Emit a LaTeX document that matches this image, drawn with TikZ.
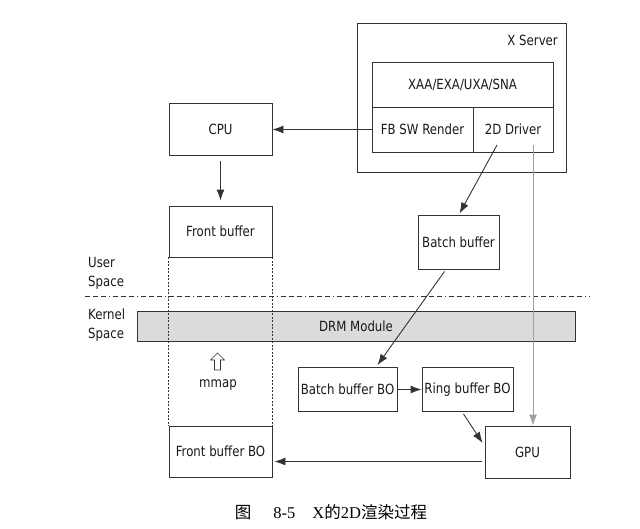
\documentclass[tikz,border=0pt]{standalone}
\usepackage{fontspec}
\setmainfont{DejaVu Sans}[FakeStretch=0.84]
\newfontfamily\cjk{Noto Sans CJK SC}
\newfontfamily\capserif{Liberation Serif}
\usetikzlibrary{arrows.meta,calc}
\definecolor{linec}{gray}{0.2}
\definecolor{drmfill}{gray}{0.86}
\begin{document}
\begin{tikzpicture}[x=1pt,y=-1pt,
  font=\fontsize{14}{15}\selectfont,
  box/.style={draw=linec, line width=0.9pt, inner sep=0pt, text=black!90},
  arr/.style={-{Latex[length=11pt,width=8pt]}, draw=linec, line width=0.9pt},
  dotline/.style={draw=linec, line width=0.55pt, dash pattern=on 2pt off 1.5pt},
  lbl/.style={inner sep=0pt, align=left, text=black!90}
]
\useasboundingbox (0,0) rectangle (640,528);

% X Server
\node[box, minimum width=209pt, minimum height=149pt] (xs) at (461.5,97.5) {};
\node[lbl, anchor=east] (xslbl) at (558,40) {X Server};
\node[box, minimum width=181pt, minimum height=45pt] (xaa) at (462.5,84.5) {XAA/EXA/UXA/SNA};
\node[box, minimum width=101pt, minimum height=45pt] (fbsw) at (422.5,129.5) {FB SW Render};
\node[box, minimum width=80pt, minimum height=45pt] (drv) at (513,129.5) {2D Driver};
\coordinate (d1) at (497,145);
\coordinate (d2) at (533,145);

% left column
\node[box, minimum width=103pt, minimum height=52pt] (cpu) at (220.5,129.5) {CPU};
\node[box, minimum width=103pt, minimum height=51pt] (front) at (220.5,231.5) {Front buffer};
\node[box, minimum width=103pt, minimum height=51pt] (fbbo) at (220.5,451.5) {Front buffer BO};

% batch buffer
\node[box, minimum width=81pt, minimum height=54pt] (batch) at (458.5,242) {Batch buffer};

% user / kernel
\node[lbl, anchor=north west] (user) at (88,257) {User\\[4pt]Space};
\node[lbl, anchor=north west] (kern) at (88,309) {Kernel\\[4pt]Space};
\coordinate (sepL) at (85,296.5);
\coordinate (sepR) at (590,296.5);
\draw[draw=linec, line width=0.8pt, dash pattern=on 5pt off 3pt on 5pt off 3pt on 5pt off 3pt on 1pt off 3pt] (sepL) -- (sepR);

\node[box, fill=drmfill, minimum width=438pt, minimum height=30pt] (drm) at (356,326) {DRM Module};

% kernel boxes
\node[box, minimum width=99pt, minimum height=44pt] (bbo) at (347.5,389.5) {Batch buffer BO};
\node[box, minimum width=91pt, minimum height=44pt] (rbo) at (467.5,389.5) {Ring buffer BO};
\node[box, minimum width=85pt, minimum height=52pt] (gpu) at (527.5,452) {GPU};

% dotted mmap guides
\draw[dotline] (front.south west) -- (fbbo.north west);
\draw[dotline] (front.south east) -- (fbbo.north east);

% mmap hollow arrow
\draw[draw=linec, line width=0.6pt, fill=white]
  (217.5,353) -- (224.5,360) -- (220.5,360) -- (220.5,370) -- (214.5,370) -- (214.5,360) -- (210.5,360) -- cycle;
\node[lbl] (mmap) at (218,385) {mmap};

% connectors
\draw[arr] (fbsw.west) -- (cpu.east);
\draw[arr] ($(cpu.south)+(0,5)$) -- ($(front.north)+(0,-5)$);
\draw[arr] (d1) -- ($(batch.north)+(1,-1)$);
\draw[arr, draw=gray!75] (d2) -- (d2 |- gpu.north);
\draw[arr] ($(batch.south)+(-14,2)$) -- ($(bbo.north)+(30,-2)$);
\draw[arr] (bbo.east) -- (rbo.west);
\draw[arr] ($(rbo.south)+(-4,2)$) -- ($(gpu.west)+(-2,-9)$);
\draw[arr] ($(gpu.west)+(-3,9.5)$) -- ($(fbbo.east)+(2,10)$);

% caption
\node[inner sep=0pt, font=\fontsize{16.5}{18}\selectfont] (cap) at (331,512)
  {{\cjk 图}\hspace{22pt}{\capserif 8-5}\hspace{17pt}{\capserif X}{\cjk 的}{\capserif 2D}{\cjk 渲染过程}};
\end{tikzpicture}
\end{document}
